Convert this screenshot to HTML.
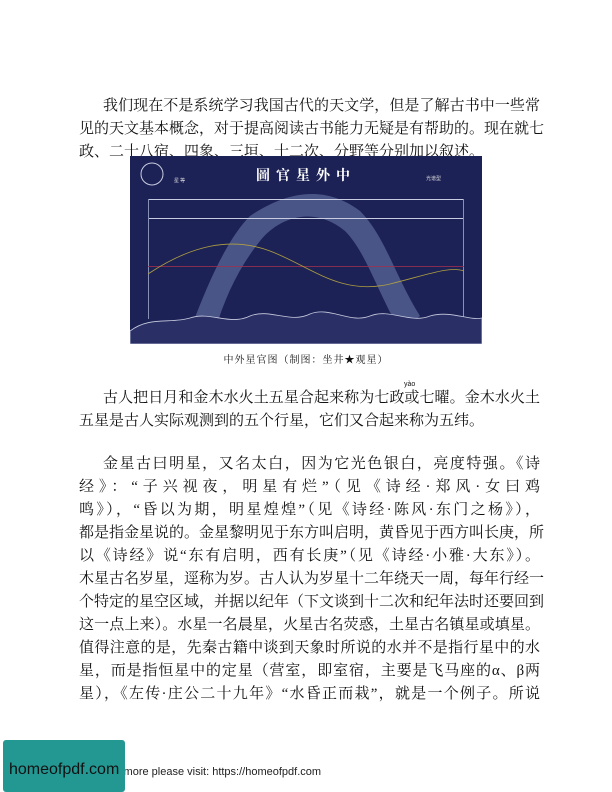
<!DOCTYPE html>
<html><head><meta charset="utf-8"><style>
body{margin:0;background:#fff;}
#page{position:relative;width:612px;height:792px;overflow:hidden;background:#fff;font-family:"Liberation Serif","Noto Serif CJK SC",serif;color:#111;}
.l{position:absolute;left:79px;width:461px;font-size:15px;line-height:18px;white-space:nowrap;text-align:justify;text-align-last:justify;}
.i{left:103px;width:437px;}
.e{text-align-last:left;}
</style></head><body>
<div id="page">
<div>
<div class="l i" style="top:97px">我们现在不是系统学习我国古代的天文学，但是了解古书中一些常</div>
<div class="l" style="top:120px">见的天文基本概念，对于提高阅读古书能力无疑是有帮助的。现在就七</div>
<div class="l e" style="top:143px">政、二十八宿、四象、三垣、十二次、分野等分别加以叙述。</div>
</div>
<svg style="position:absolute;left:130px;top:156px" width="352" height="188" viewBox="0 0 352 188">
<rect width="352" height="188" fill="#1d2256"/>
<path d="M60 175 C80 120 100 80 120 60 C150 40 190 25 230 55 C255 80 265 120 290 160 L270 175 C245 130 235 95 215 75 C185 50 150 60 130 85 C110 110 95 140 85 175Z" fill="#6f7fb0" opacity="0.55"/>
<rect x="18" y="43" width="316" height="1" fill="#c8cce0"/>
<rect x="18" y="62" width="316" height="1" fill="#c8cce0"/>
<rect x="18" y="43" width="1" height="120" fill="#8890b8"/>
<rect x="333" y="43" width="1" height="120" fill="#8890b8"/>
<rect x="18" y="110" width="316" height="1" fill="#a03050" opacity="0.8"/>
<path d="M18 118 C60 90 100 80 140 95 C180 110 210 140 260 128 C300 118 320 110 334 115" stroke="#b0a040" fill="none" stroke-width="0.8"/>
<path d="M0 175 C20 160 40 168 60 162 C80 155 100 170 120 160 C140 152 160 168 180 158 C200 150 220 168 240 160 C260 152 280 168 300 160 C320 154 340 165 352 162 L352 188 L0 188Z" fill="#2a3066" stroke="#c8cce0" stroke-width="0.8"/>
<circle cx="22" cy="18" r="11" fill="none" stroke="#c8cce0" stroke-width="1"/>
<text x="176" y="24" text-anchor="middle" fill="#fff" font-size="14" font-weight="bold" letter-spacing="6" font-family="Liberation Serif,Noto Serif CJK SC,serif">圖官星外中</text>
<text x="44" y="26" fill="#ddd" font-size="5" font-family="Noto Sans CJK SC,sans-serif">星 等</text>
<text x="296" y="24" fill="#ddd" font-size="5" font-family="Noto Sans CJK SC,sans-serif">光谱型</text>
</svg>
<div style="position:absolute;left:0;width:612px;top:351px;text-align:center;font-size:10px;letter-spacing:1px;">中外星官图（制图：坐井★观星）</div>
<div>
<div style="position:absolute;left:404px;top:381px;font-size:7px;font-family:'Liberation Sans',sans-serif;">yào</div>
<div class="l i" style="top:389px">古人把日月和金木水火土五星合起来称为七政或七曜。金木水火土</div>
<div class="l e" style="top:412px">五星是古人实际观测到的五个行星，它们又合起来称为五纬。</div>
</div>
<div>
<div class="l i" style="top:455px">金星古曰明星，又名太白，因为它光色银白，亮度特强。《诗</div>
<div class="l" style="top:478px">经》：“子兴视夜，明星有烂”（见《诗经·郑风·女曰鸡</div>
<div class="l" style="top:501px">鸣》），“昏以为期，明星煌煌”（见《诗经·陈风·东门之杨》），</div>
<div class="l" style="top:524px">都是指金星说的。金星黎明见于东方叫启明，黄昏见于西方叫长庚，所</div>
<div class="l" style="top:547px">以《诗经》说“东有启明，西有长庚”（见《诗经·小雅·大东》）。</div>
<div class="l" style="top:570px">木星古名岁星，逕称为岁。古人认为岁星十二年绕天一周，每年行经一</div>
<div class="l" style="top:593px">个特定的星空区域，并据以纪年（下文谈到十二次和纪年法时还要回到</div>
<div class="l" style="top:616px">这一点上来）。水星一名晨星，火星古名荧惑，土星古名镇星或填星。</div>
<div class="l" style="top:639px">值得注意的是，先秦古籍中谈到天象时所说的水并不是指行星中的水</div>
<div class="l" style="top:662px">星，而是指恒星中的定星（营室，即室宿，主要是飞马座的α、β两</div>
<div class="l" style="top:685px">星），《左传·庄公二十九年》“水昏正而栽”，就是一个例子。所说</div>
</div>
<div style="position:absolute;left:104px;top:766px;font-size:11px;font-family:'Liberation Sans',sans-serif;color:#222;">For more please visit: https://homeofpdf.com</div>
<div style="position:absolute;left:3px;top:740px;width:122px;height:52px;background:#239893;border-radius:3px;font-family:'Liberation Sans',sans-serif;font-size:16px;color:#111;line-height:60px;text-align:left;padding-left:6px;box-sizing:border-box;">homeofpdf.com</div>
</div>
</body></html>
